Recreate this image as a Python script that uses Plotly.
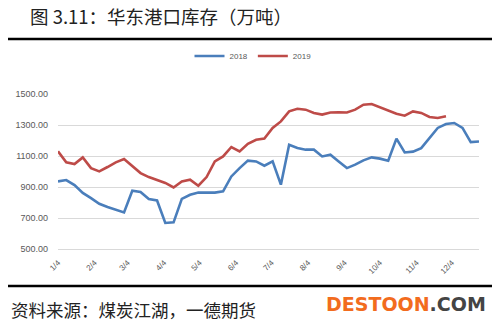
import plotly.graph_objects as go
import pandas as pd

# weekly observations
dates = pd.date_range("2018-01-04", periods=52, freq="7D")

inv_2018 = [936, 945, 912, 862, 828, 792, 771, 754, 736, 876, 868, 822, 813, 668, 672, 823,
            850, 865, 863, 864, 872, 968, 1022, 1070, 1065, 1037, 1065, 915, 1173, 1152, 1141, 1141,
            1097, 1108, 1065, 1022, 1044, 1072, 1091, 1083, 1070, 1212, 1123, 1128, 1151, 1216,
            1281, 1306, 1313, 1281, 1190, 1194]
inv_2019 = [1130, 1059, 1048, 1091, 1022, 1001, 1029, 1059, 1080, 1037, 990, 964, 947, 926, 897, 936,
            947, 908, 964, 1065, 1097, 1158, 1130, 1179, 1205, 1212, 1281, 1323, 1388, 1405, 1399, 1378,
            1367, 1381, 1382, 1381, 1399, 1431, 1435, 1415, 1394, 1373, 1360, 1388, 1378, 1352, 1345, 1356]

tick_dates = [f"2018-{m:02d}-04" for m in range(1, 13)]
tick_labels = [f"{m}/4" for m in range(1, 13)]
y_ticks = [500, 700, 900, 1100, 1300, 1500]
y_labels = [f"{v:.2f}" for v in y_ticks]

CJK = "Noto Sans CJK SC"

fig = go.Figure()
fig.add_trace(go.Scatter(x=dates, y=inv_2018, mode="lines", name="2018",
                         line=dict(color="#4A7EBB", width=2.6)))
fig.add_trace(go.Scatter(x=dates[:len(inv_2019)], y=inv_2019, mode="lines", name="2019",
                         line=dict(color="#BE4B48", width=2.6)))

L, R, T, B = 58, 21, 94, 77
W, H = 500, 326
pw, ph = W - L - R, H - T - B

def px(x):
    return (x - L) / pw

def py(y):
    return (H - B - y) / ph

fig.update_layout(
    width=W, height=H,
    margin=dict(l=L, r=R, t=T, b=B),
    paper_bgcolor="white", plot_bgcolor="white",
    font=dict(family="Liberation Sans, Arial", color="#595959"),
    showlegend=True,
    legend=dict(orientation="h", x=px(253), y=py(56), xanchor="center", yanchor="middle",
                font=dict(size=8, color="#595959"), itemwidth=30, bgcolor="rgba(0,0,0,0)"),
    xaxis=dict(type="date", range=["2018-01-04", "2018-12-27"], tickvals=tick_dates,
               ticktext=tick_labels, tickangle=-45, showgrid=False, showline=True,
               linecolor="#D9D9D9", linewidth=1, ticks="", ticklabelstandoff=5,
               tickfont=dict(size=8, color="#595959")),
    yaxis=dict(range=[500, 1500], tickvals=y_ticks, ticktext=y_labels, showgrid=True,
               gridcolor="#D9D9D9", gridwidth=1, zeroline=False, showline=False, ticks="",
               tickfont=dict(size=9, color="#595959"), ticklabelstandoff=9),
    shapes=[
        dict(type="line", xref="paper", yref="paper", x0=px(8), x1=px(492), y0=py(39), y1=py(39),
             line=dict(color="black", width=2.5)),
        dict(type="line", xref="paper", yref="paper", x0=px(8), x1=px(492), y0=py(286), y1=py(286),
             line=dict(color="black", width=2.5)),
    ],
    annotations=[
        dict(text="图 3.11：华东港口库存（万吨）", xref="paper", yref="paper", x=px(28), y=py(16),
             xanchor="left", yanchor="middle", showarrow=False,
             font=dict(family=CJK, size=18.5, color="#222222")),
        dict(text="资料来源：煤炭江湖，一德期货", xref="paper", yref="paper", x=px(9), y=py(309),
             xanchor="left", yanchor="middle", showarrow=False,
             font=dict(family=CJK, size=17.5, color="#222222")),
        dict(text="<b><span style='color:#F26C1E'>DESTOON</span><span style='color:#444444'>.COM</span></b>",
             xref="paper", yref="paper", x=px(488), y=py(304), xanchor="right", yanchor="middle",
             showarrow=False, font=dict(family="DejaVu Sans", size=19)),
    ],
)

fig.write_html("out.html")
